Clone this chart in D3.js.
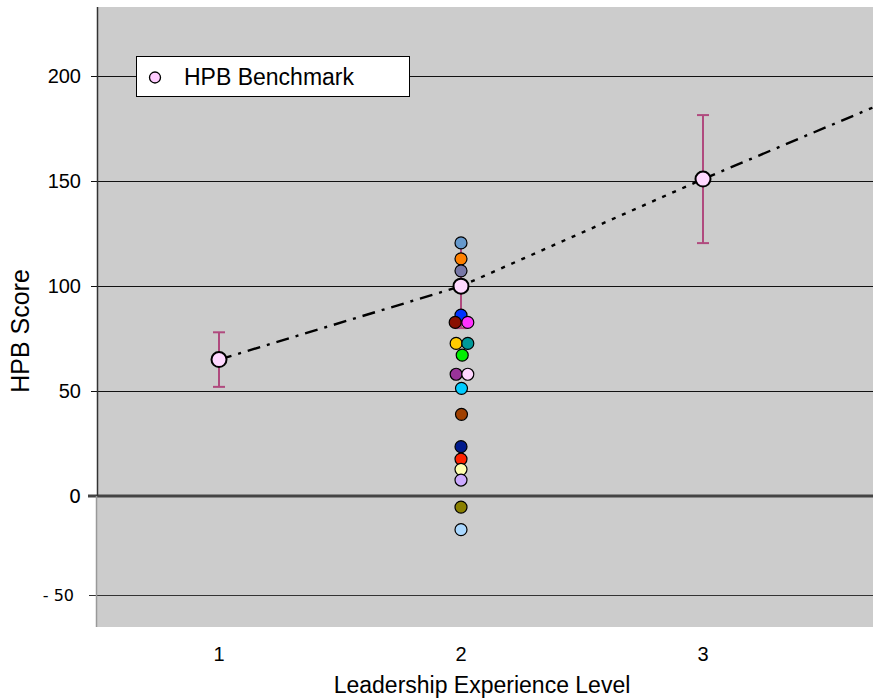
<!DOCTYPE html>
<html><head><meta charset="utf-8">
<script src="https://cdn.jsdelivr.net/npm/d3@7/dist/d3.min.js"></script>
<style>body{margin:0;background:#fff}svg{display:block}text{font-family:"Liberation Sans",Arial,sans-serif}</style>
</head><body><svg id="c" width="873" height="700"></svg>
<script>
// ---- data ----
const benchX = [1, 2, 3];
const benchY = [65, 100, 151];
const errLow = [52, 80, 120.5];
const errHigh = [78, 120, 181.5];
const trendX = [1, 2, 3, 3.7];
const trendY = [65, 100, 151, 185];
const trendStyle = ["dashdot", "dotted", "dashdot"];
const ptX = [2, 2, 2, 2, 1.976, 2.028, 1.98, 2.028, 2.005, 1.98, 2.028, 2.002, 2.002, 2, 2, 2, 2, 2, 2];
const ptY = [120.6, 113, 107.3, 86.2, 82.7, 82.7, 72.7, 72.7, 67.1, 58, 58, 51.3, 38.9, 23.5, 17.6, 12.7, 7.6, -5.6, -17];
const ptColor = ["#6699cc", "#ff8000", "#7777a6", "#0033ff", "#8b1000", "#ff33ff", "#ffcc00", "#009999", "#00ee00", "#993399", "#ffd6ff", "#00ccff", "#a04000", "#001a8c", "#ff2200", "#ffffb0", "#ccaaff", "#8a8000", "#aad8ff"];
const yTicks = [200, 150, 100, 50, 0, -50];
const yTickLabels = ["200", "150", "100", "50", "0", "- 50"];
const xTicks = [1, 2, 3];
const legendLabel = "HPB Benchmark";
const xTitle = "Leadership Experience Level";
const yTitle = "HPB Score";

// ---- layout ----
const svg = d3.select("#c");
const plotL = 97, plotR = 873, plotT = 7, plotB = 627;
const x = d3.scaleLinear().domain([0.5, 3.7]).range([98, 872.4]);
const y = d3.scaleLinear().domain([-66, -50, 0, 233]).range([627, 595, 496, 7]);

// background
svg.append("rect").attr("x", plotL).attr("y", plotT).attr("width", plotR - plotL).attr("height", plotB - plotT).attr("fill", "#cccccc");

// gridlines
yTicks.forEach(v => {
  const isZero = v === 0;
  const yy = isZero ? y(v) : Math.round(y(v)) + 0.5;
  svg.append("line").attr("x1", isZero ? 88 : (v < 0 ? 89 : 91)).attr("x2", plotR)
    .attr("y1", yy).attr("y2", yy)
    .attr("stroke", isZero ? "#444" : (v < 0 ? "#333" : "#111"))
    .attr("stroke-width", isZero ? 3 : 1);
});
// y axis line
svg.append("line").attr("x1", 97.5).attr("x2", 97.5).attr("y1", plotT).attr("y2", y(0)).attr("stroke", "#333").attr("stroke-width", 1.5);
svg.append("line").attr("x1", 96.5).attr("x2", 96.5).attr("y1", y(0)).attr("y2", plotB).attr("stroke", "#999").attr("stroke-width", 1.5);

// y tick labels
yTicks.forEach((v, i) => {
  const neg = v <= 0;
  svg.append("text").attr("x", v < 0 ? 74 : 81).attr("y", y(v)).attr("dy", "0.35em")
    .attr("text-anchor", "end")
    .style("font-family", neg ? "'DejaVu Sans',sans-serif" : null)
    .attr("font-size", v < 0 ? 16 : (v === 0 ? 19 : 20))
    .attr("fill", "#000").text(yTickLabels[i]);
});
// x tick labels
xTicks.forEach(v => {
  svg.append("text").attr("x", x(v)).attr("y", 661).attr("text-anchor", "middle").attr("font-size", 20).text(v);
});
svg.append("text").attr("x", 482).attr("y", 693).attr("text-anchor", "middle").attr("font-size", 23).text(xTitle);
svg.append("text").attr("transform", "translate(29,331) rotate(-90)").attr("text-anchor", "middle").attr("font-size", 25).text(yTitle);

// legend
svg.append("rect").attr("x", 136.5).attr("y", 56.5).attr("width", 273).attr("height", 40).attr("fill", "#fff").attr("stroke", "#000").attr("stroke-width", 1);
svg.append("circle").attr("cx", 155).attr("cy", 77.5).attr("r", 5.5).attr("fill", "#ffccff").attr("stroke", "#000").attr("stroke-width", 1.3);
svg.append("text").attr("x", 184).attr("y", 85).attr("font-size", 23).text(legendLabel);

// trend line segments
const dashes = {dashdot: "13,7,3,7", dotted: "4,7"};
for (let i = 0; i < trendX.length - 1; i++) {
  svg.append("line").attr("x1", x(trendX[i])).attr("y1", y(trendY[i]))
    .attr("x2", x(trendX[i + 1])).attr("y2", y(trendY[i + 1]))
    .attr("stroke", "#000").attr("stroke-width", 2.4)
    .attr("stroke-dasharray", dashes[trendStyle[i]]);
}

// error bars
const errCol = "#b04a7e";
benchX.forEach((bx, i) => {
  const g = svg.append("g").attr("stroke", errCol).attr("stroke-width", 2);
  g.append("line").attr("x1", x(bx)).attr("x2", x(bx)).attr("y1", y(errLow[i])).attr("y2", y(errHigh[i]));
  [errLow[i], errHigh[i]].forEach(v => g.append("line").attr("x1", x(bx) - 6).attr("x2", x(bx) + 6).attr("y1", y(v)).attr("y2", y(v)));
});

// colored points
svg.append("g").selectAll("circle").data(ptY).join("circle")
  .attr("cx", (d, i) => x(ptX[i])).attr("cy", d => y(d)).attr("r", 6)
  .attr("fill", (d, i) => ptColor[i]).attr("stroke", "#000").attr("stroke-width", 1.2);

// benchmark points
svg.append("g").selectAll("circle").data(benchY).join("circle")
  .attr("cx", (d, i) => x(benchX[i])).attr("cy", d => y(d)).attr("r", 7.5)
  .attr("fill", "#ffd9ff").attr("stroke", "#000").attr("stroke-width", 2);
</script></body></html>
